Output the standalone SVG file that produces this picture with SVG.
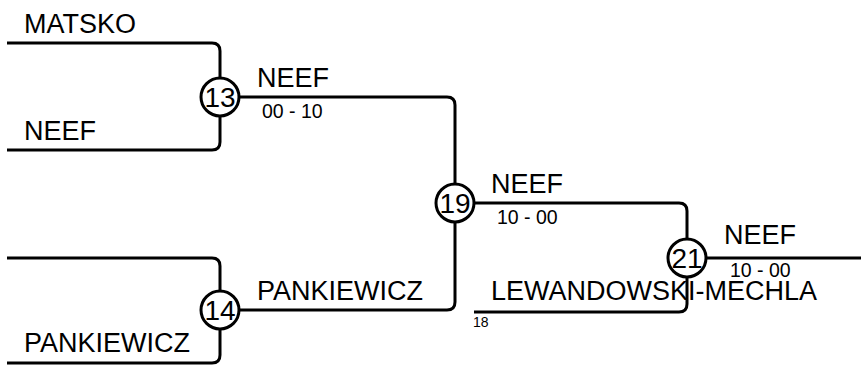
<svg xmlns="http://www.w3.org/2000/svg" width="861" height="365" viewBox="0 0 861 365">
<style>
.c{fill:none;stroke:#000;stroke-width:3}
.n{fill:#fff;stroke:#000;stroke-width:3}
text{font-family:"Liberation Sans",Arial,sans-serif;fill:#000}
.nm{font-size:27px}
.sc{font-size:19.5px}
.num{font-size:28px;text-anchor:middle}
.sm{font-size:14px}
</style>
<rect width="861" height="365" fill="#fff"/>
<g id="connectors">
<path class="c" d="M7,43 H212 Q220,43 220,51 V78"/>
<path class="c" d="M7,150 H212 Q220,150 220,142 V116"/>
<path class="c" d="M239,97 H447 Q455,97 455,105 V184"/>
<path class="c" d="M7,258 H212 Q220,258 220,266 V291"/>
<path class="c" d="M7,363 H212 Q220,363 220,355 V329"/>
<path class="c" d="M239,310 H447 Q455,310 455,302 V222"/>
<path class="c" d="M473,203 H679 Q687,203 687,211 V239"/>
<path class="c" d="M474,312 H679 Q687,312 687,304 V277"/>
<path class="c" d="M706,258 H861"/>
</g>
<g id="labels">
<text class="nm" x="24" y="33">MATSKO</text>
<text class="nm" x="24" y="140">NEEF</text>
<text class="nm" x="257" y="87">NEEF</text>
<text class="sc" x="262" y="118">00 - 10</text>
<text class="nm" x="24" y="352">PANKIEWICZ</text>
<text class="nm" x="257" y="300">PANKIEWICZ</text>
<text class="nm" x="491" y="193">NEEF</text>
<text class="sc" x="497" y="224">10 - 00</text>
<text class="nm" x="491" y="300">LEWANDOWSKI-MECHLA</text>
<text class="sm" x="473" y="327">18</text>
<text class="nm" x="724" y="244">NEEF</text>
<text class="sc" x="730" y="277">10 - 00</text>
</g>
<g id="node-13"><circle class="n" cx="220" cy="97" r="19"/><text class="num" x="220" y="107">13</text></g>
<g id="node-14"><circle class="n" cx="220" cy="310" r="19"/><text class="num" x="220" y="320">14</text></g>
<g id="node-19"><circle class="n" cx="455" cy="203" r="19"/><text class="num" x="455" y="213">19</text></g>
<g id="node-21"><circle class="n" cx="687" cy="258" r="19"/><text class="num" x="687" y="268">21</text></g>
</svg>
